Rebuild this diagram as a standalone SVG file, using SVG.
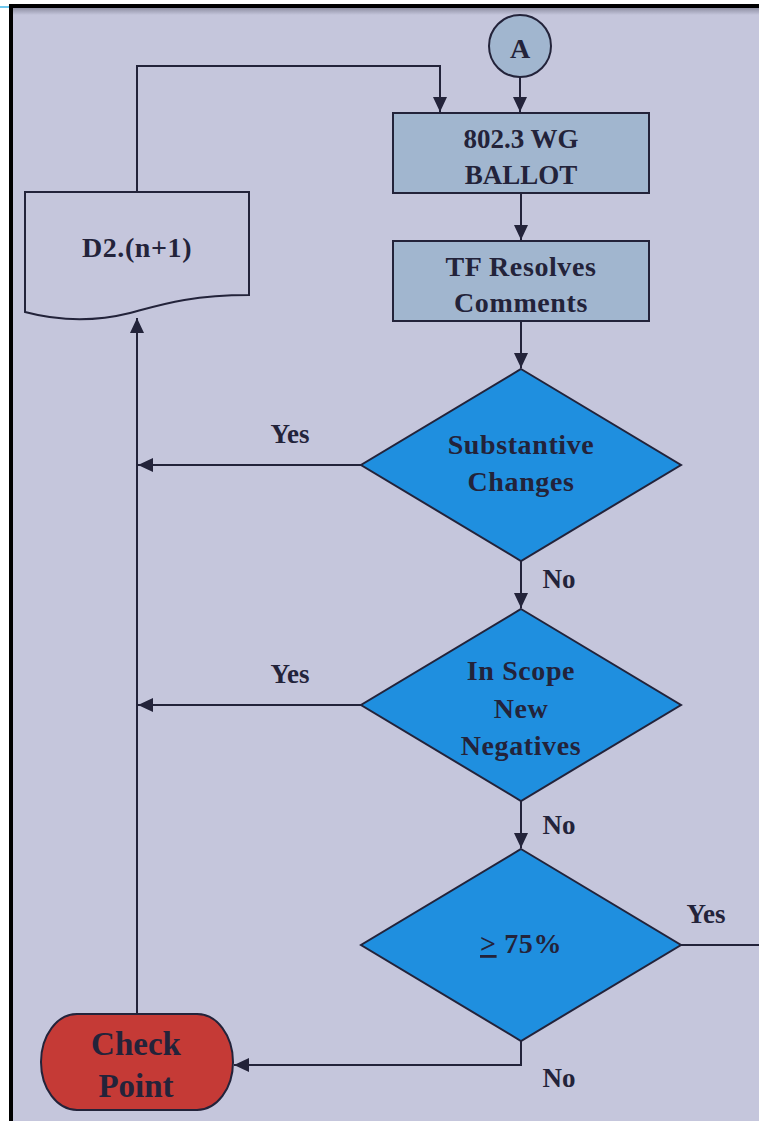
<svg xmlns="http://www.w3.org/2000/svg" width="759" height="1121" viewBox="0 0 759 1121">
<defs>
<style>
.t{font-family:"Liberation Serif","Times New Roman",serif;font-weight:bold;fill:#23233a;text-anchor:middle}
.w{font-size:28px;letter-spacing:0.6px}
.l{font-size:27px}
.s{stroke:#23233a;stroke-width:2;fill:none}
.box{fill:#a1b6cf;stroke:#23233a;stroke-width:2}
.dia{fill:#1f8fdf;stroke:#23233a;stroke-width:2}
</style>
<marker id="ah" markerUnits="userSpaceOnUse" markerWidth="16" markerHeight="14" refX="15" refY="7" orient="auto">
<path d="M0,0 L15,7 L0,14 Z" fill="#23233a"/>
</marker>
<linearGradient id="sh" x1="0" y1="0" x2="0" y2="1">
<stop offset="0" stop-color="#8f90a4"/>
<stop offset="1" stop-color="#c5c6dc"/>
</linearGradient>
</defs>
<rect x="0" y="0" width="759" height="1121" fill="#ffffff"/>
<rect x="11" y="6" width="748" height="1115" fill="#c5c6dc"/>
<rect x="13" y="8" width="746" height="7" fill="url(#sh)"/>
<line x1="0" y1="7" x2="10" y2="7" stroke="#3fb6e8" stroke-width="1.5"/>
<line x1="11" y1="6" x2="759" y2="6" stroke="#000" stroke-width="4"/>
<line x1="11" y1="4" x2="11" y2="1121" stroke="#000" stroke-width="4"/>

<g id="connectors">
<path class="s" d="M520,77 V112" marker-end="url(#ah)"/>
<path class="s" d="M137,192 V66 H440 V112" marker-end="url(#ah)"/>
<path class="s" d="M521,193 V240" marker-end="url(#ah)"/>
<path class="s" d="M521,321 V368" marker-end="url(#ah)"/>
<path class="s" d="M361,465 H138" marker-end="url(#ah)"/>
<path class="s" d="M521,561 V608" marker-end="url(#ah)"/>
<path class="s" d="M361,705 H138" marker-end="url(#ah)"/>
<path class="s" d="M521,801 V848" marker-end="url(#ah)"/>
<path class="s" d="M681,945 H759"/>
<path class="s" d="M521,1041 V1065 H234" marker-end="url(#ah)"/>
<path class="s" d="M137,1014 V318" marker-end="url(#ah)"/>
<text class="t l" x="290" y="443">Yes</text>
<text class="t l" x="559" y="588">No</text>
<text class="t l" x="290" y="683">Yes</text>
<text class="t l" x="559" y="834">No</text>
<text class="t l" x="706" y="923">Yes</text>
<text class="t l" x="559" y="1087">No</text>
</g>

<g id="nodeA">
<circle cx="520" cy="46" r="31" class="box"/>
<text class="t" x="520" y="58" font-size="28">A</text>
</g>

<g id="ballot">
<rect x="393" y="113" width="256" height="80" class="box"/>
<text class="t" x="521" y="148" font-size="27">802.3 WG</text>
<text class="t" x="521" y="184" font-size="27">BALLOT</text>
</g>

<g id="resolves">
<rect x="393" y="241" width="256" height="80" class="box"/>
<text class="t w" x="521" y="276">TF Resolves</text>
<text class="t w" x="521" y="312">Comments</text>
</g>

<g id="doc">
<path d="M25,192 H249 V295 C190,295 160,305 130,313 C90,323 55,320 25,312 Z" fill="#c5c6dc" stroke="#23233a" stroke-width="2"/>
<text class="t w" x="137" y="257" letter-spacing="1.5">D2.(n+1)</text>
</g>

<g id="substantive">
<polygon points="521,369 681,465 521,561 361,465" class="dia"/>
<text class="t w" x="521" y="454">Substantive</text>
<text class="t w" x="521" y="491">Changes</text>
</g>

<g id="inscope">
<polygon points="521,609 681,705 521,801 361,705" class="dia"/>
<text class="t w" x="521" y="680">In Scope</text>
<text class="t w" x="521" y="718">New</text>
<text class="t w" x="521" y="755">Negatives</text>
</g>

<g id="pct">
<polygon points="521,849 681,945 521,1041 361,945" class="dia"/>
<text class="t w" x="521" y="953"><tspan text-decoration="underline">&gt;</tspan> 75%</text>
</g>

<g id="checkpoint">
<rect x="41" y="1014" width="192" height="96" rx="36" ry="48" fill="#c53a36" stroke="#23233a" stroke-width="2"/>
<text class="t" x="136" y="1055" font-size="33">Check</text>
<text class="t" x="136" y="1097" font-size="33">Point</text>
</g>
</svg>
